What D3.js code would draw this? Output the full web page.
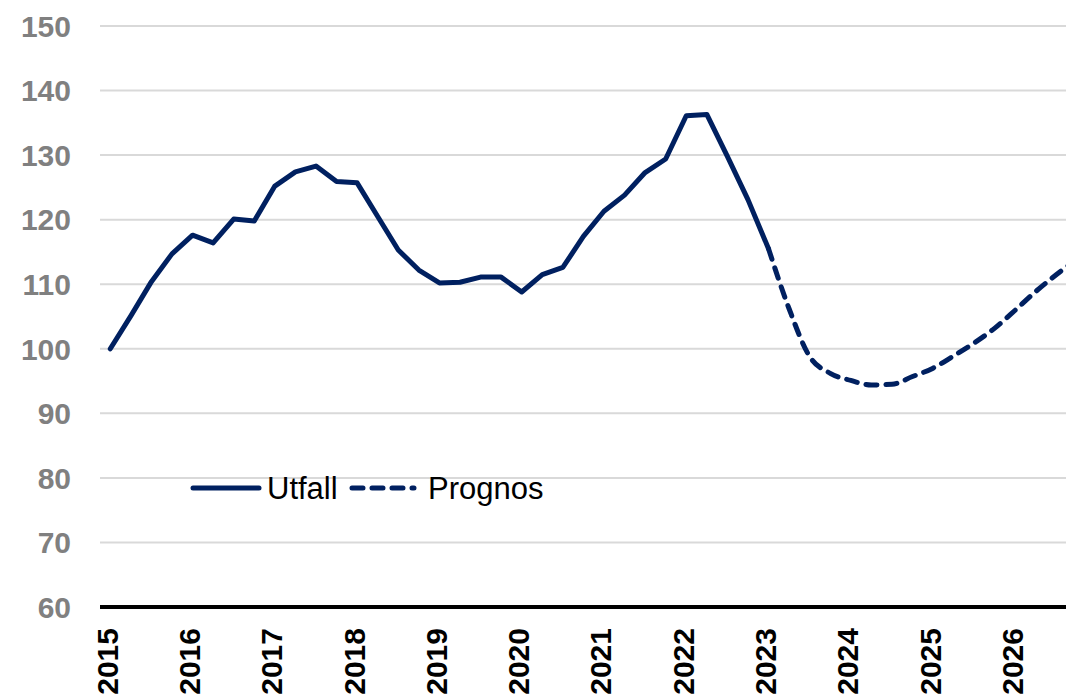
<!DOCTYPE html>
<html>
<head>
<meta charset="utf-8">
<script src="https://cdn.jsdelivr.net/npm/d3@7"></script>
<style>
    body { margin: 0; background: #fff; }
    svg { display: block; }
</style>
</head>
<body>
<div id="container"></div>
<script>
// quarters 2015Q1 .. 2026Q4
const years = d3.range(2015, 2027);
const quarters = years.flatMap(y => [1, 2, 3, 4].map(q => `${y}Q${q}`));

// Utfall: 2015Q1 .. 2023Q1
const utfall = [100, 105.1, 110.4, 114.7, 117.6, 116.4, 120.1, 119.8,
    125.2, 127.4, 128.3, 125.9, 125.7, 120.5, 115.3, 112.2,
    110.2, 110.3, 111.1, 111.1, 108.8, 111.5, 112.6, 117.4,
    121.3, 123.8, 127.3, 129.4, 136.1, 136.3, 129.8, 123.1, 115.5];

// Prognos: 2023Q1 .. 2026Q4
const prognos = [115.5, 106.2, 98.8, 96.2, 95.1, 94.4, 94.5, 95.7,
    97.0, 98.9, 100.9, 103.2, 106.0, 108.9, 111.5, 113.9];

const yTicks = [60, 70, 80, 90, 100, 110, 120, 130, 140, 150];

const width = 1066, height = 698;
const plotLeft = 100, plotTop = 26, plotBottom = 607;
const step = 20.57;
const navy = "#002060";

const svg = d3.select("#container").append("svg")
    .attr("width", width)
    .attr("height", height);

const x = d3.scaleBand()
    .domain(quarters)
    .range([plotLeft, plotLeft + quarters.length * step]);

const y = d3.scaleLinear()
    .domain([60, 150])
    .range([plotBottom, plotTop]);

const xc = q => x(q) + x.bandwidth() / 2;

// grid + y labels
svg.append("g")
    .selectAll("line")
    .data(yTicks.filter(d => d > 60))
    .enter().append("line")
    .attr("x1", plotLeft).attr("x2", width)
    .attr("y1", d => y(d)).attr("y2", d => y(d))
    .attr("stroke", "#d9d9d9")
    .attr("stroke-width", 2);

svg.append("g")
    .selectAll("text")
    .data(yTicks)
    .enter().append("text")
    .attr("x", 71)
    .attr("y", d => y(d))
    .attr("dy", "0.36em")
    .attr("text-anchor", "end")
    .attr("font-family", "Liberation Sans, Arial, sans-serif")
    .attr("font-weight", "bold")
    .attr("font-size", 30)
    .attr("fill", "#808080")
    .text(d => d);

// x axis line
svg.append("line")
    .attr("x1", plotLeft).attr("x2", width)
    .attr("y1", plotBottom).attr("y2", plotBottom)
    .attr("stroke", "#000")
    .attr("stroke-width", 4);

// year labels, rotated
svg.append("g")
    .selectAll("text")
    .data(years)
    .enter().append("text")
    .attr("transform", d => `translate(${xc(d + "Q1") - 3}, 628) rotate(-90)`)
    .attr("text-anchor", "end")
    .attr("dominant-baseline", "central")
    .attr("font-family", "Liberation Sans, Arial, sans-serif")
    .attr("font-weight", "bold")
    .attr("font-size", 30)
    .attr("fill", "#000")
    .text(d => d);

// lines
const line = d3.line()
    .x(d => xc(d.q))
    .y(d => y(d.v));

const utfallData = utfall.map((v, i) => ({ q: quarters[i], v }));
const prognosData = prognos.map((v, i) => ({ q: quarters[i + 32], v }));

svg.append("path")
    .attr("d", line(utfallData))
    .attr("fill", "none")
    .attr("stroke", navy)
    .attr("stroke-width", 5)
    .attr("stroke-linejoin", "round")
    .attr("stroke-linecap", "round");

svg.append("path")
    .attr("d", line.curve(d3.curveMonotoneX)(prognosData))
    .attr("fill", "none")
    .attr("stroke", navy)
    .attr("stroke-width", 5)
    .attr("stroke-dasharray", "11,9")
    .attr("stroke-linecap", "round");

// legend
const legend = svg.append("g").attr("font-family", "Liberation Sans, Arial, sans-serif");
legend.append("line")
    .attr("x1", 193).attr("x2", 259).attr("y1", 488).attr("y2", 488)
    .attr("stroke", navy).attr("stroke-width", 5).attr("stroke-linecap", "round");
legend.append("text")
    .attr("x", 267).attr("y", 488).attr("dy", "0.36em")
    .attr("font-size", 31).attr("fill", "#000")
    .text("Utfall");
legend.append("line")
    .attr("x1", 352).attr("x2", 414).attr("y1", 488).attr("y2", 488)
    .attr("stroke", navy).attr("stroke-width", 5).attr("stroke-linecap", "round")
    .attr("stroke-dasharray", "11,9");
legend.append("text")
    .attr("x", 428).attr("y", 488).attr("dy", "0.36em")
    .attr("font-size", 31).attr("fill", "#000")
    .text("Prognos");
</script>
</body>
</html>
